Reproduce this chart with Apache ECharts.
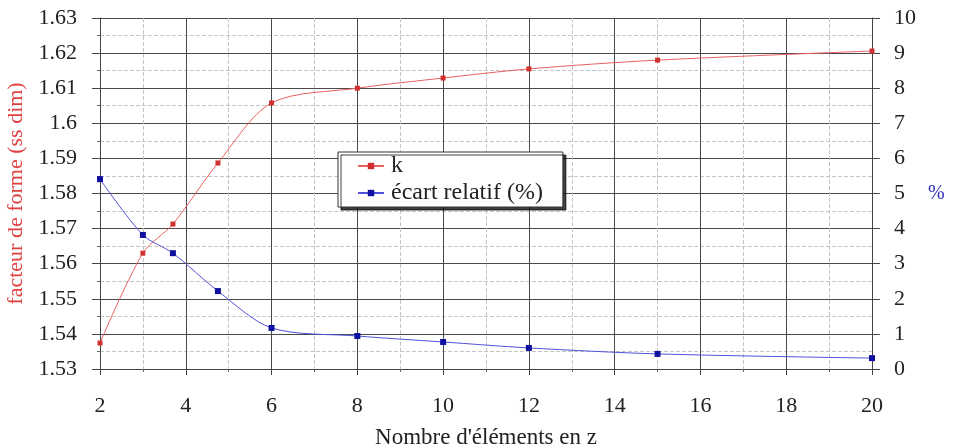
<!DOCTYPE html>
<html><head><meta charset="utf-8">
<script src="https://cdn.jsdelivr.net/npm/echarts@6/dist/echarts.min.js"></script>
<style>html,body{margin:0;padding:0;background:#fff}#c{width:954px;height:447px}</style>
</head><body><div id="c"></div>
<script>
var xValues = [2, 3, 3.7, 4.75, 6, 8, 10, 12, 15, 20];
var kValues = [1.5374, 1.5630, 1.5713, 1.5887, 1.6058, 1.6100, 1.6129, 1.6155, 1.6180, 1.6206];
var ecartValues = [5.41, 3.82, 3.30, 2.22, 1.17, 0.94, 0.77, 0.60, 0.43, 0.31];
var seriesNames = ['k', 'écart relatif (%)'];

var font = 'Liberation Serif';
var fs = 22;
var chart = echarts.init(document.getElementById('c'));
function pairs(ys){ return xValues.map(function(x,i){return [x, ys[i]];}); }
chart.setOption({
  animation: false,
  textStyle: {fontFamily: font},
  grid: {left: 100, right: 82, top: 18, bottom: 78, outerBoundsMode: 'none', containLabel: false},
  legend: {
    left: 338, top: 152, orient: 'vertical', itemGap: 3,
    padding: [2, 20, 2, 19],
    backgroundColor: '#fff', borderColor: '#333', borderWidth: 1,
    shadowColor: 'rgba(0,0,0,0.75)', shadowOffsetX: 3, shadowOffsetY: 3, shadowBlur: 0,
    itemWidth: 26, itemHeight: 8,
    textStyle: {fontFamily: font, fontSize: 24, color: '#222', padding: [0,0,0,2]},
    data: seriesNames
  },
  xAxis: {
    type: 'value', min: 2, max: 20, interval: 2,
    name: "Nombre d'éléments en z", nameLocation: 'middle', nameGap: 57,
    nameTextStyle: {fontFamily: font, fontSize: 23, color: '#222'},
    axisLine: {lineStyle: {color: '#444'}},
    axisTick: {inside: false, length: 6, lineStyle: {color: '#444'}},
    axisLabel: {fontFamily: font, fontSize: fs, color: '#222', margin: 26},
    splitLine: {show: true, lineStyle: {color: '#4a4a4a', width: 1}},
    minorTick: {show: true, splitNumber: 2, length: 3, lineStyle: {color: '#666'}},
    minorSplitLine: {show: true, lineStyle: {color: '#c4c4c4', type: 'dashed'}}
  },
  yAxis: [{
    type: 'value', min: 1.53, max: 1.63, interval: 0.01,
    name: 'facteur de forme (ss dim)', nameLocation: 'middle', nameGap: 68, nameRotate: 90,
    nameTextStyle: {fontFamily: font, fontSize: 22, color: '#e04040'},
    axisLine: {show: true, lineStyle: {color: '#444'}},
    axisTick: {show: true, length: 8, lineStyle: {color: '#444'}},
    axisLabel: {fontFamily: font, fontSize: fs, color: '#222', margin: 23,
      formatter: function(v){ return String(parseFloat(v.toFixed(2))); }},
    splitLine: {show: true, lineStyle: {color: '#4a4a4a', width: 1}},
    minorTick: {show: true, splitNumber: 2, length: 3, lineStyle: {color: '#666'}},
    minorSplitLine: {show: true, lineStyle: {color: '#c4c4c4', type: 'dashed'}}
  }, {
    type: 'value', min: 0, max: 10, interval: 1,
    name: '%', nameLocation: 'middle', nameGap: 56, nameRotate: 0,
    nameTextStyle: {fontFamily: font, fontSize: 20, color: '#3030c0'},
    axisLine: {show: true, lineStyle: {color: '#444'}},
    axisTick: {show: true, length: 8, lineStyle: {color: '#444'}},
    axisLabel: {fontFamily: font, fontSize: fs, color: '#222', margin: 22},
    splitLine: {show: false}
  }],
  series: [{
    name: seriesNames[0], type: 'line', yAxisIndex: 0, smooth: 0.3,
    data: pairs(kValues),
    symbol: 'rect', symbolSize: 5,
    lineStyle: {color: '#e86060', width: 1},
    itemStyle: {color: '#d03030'}
  }, {
    name: seriesNames[1], type: 'line', yAxisIndex: 1, smooth: 0.3,
    data: pairs(ecartValues),
    symbol: 'rect', symbolSize: 6,
    lineStyle: {color: '#5050d8', width: 1},
    itemStyle: {color: '#1010a0'}
  }]
});
</script></body></html>
